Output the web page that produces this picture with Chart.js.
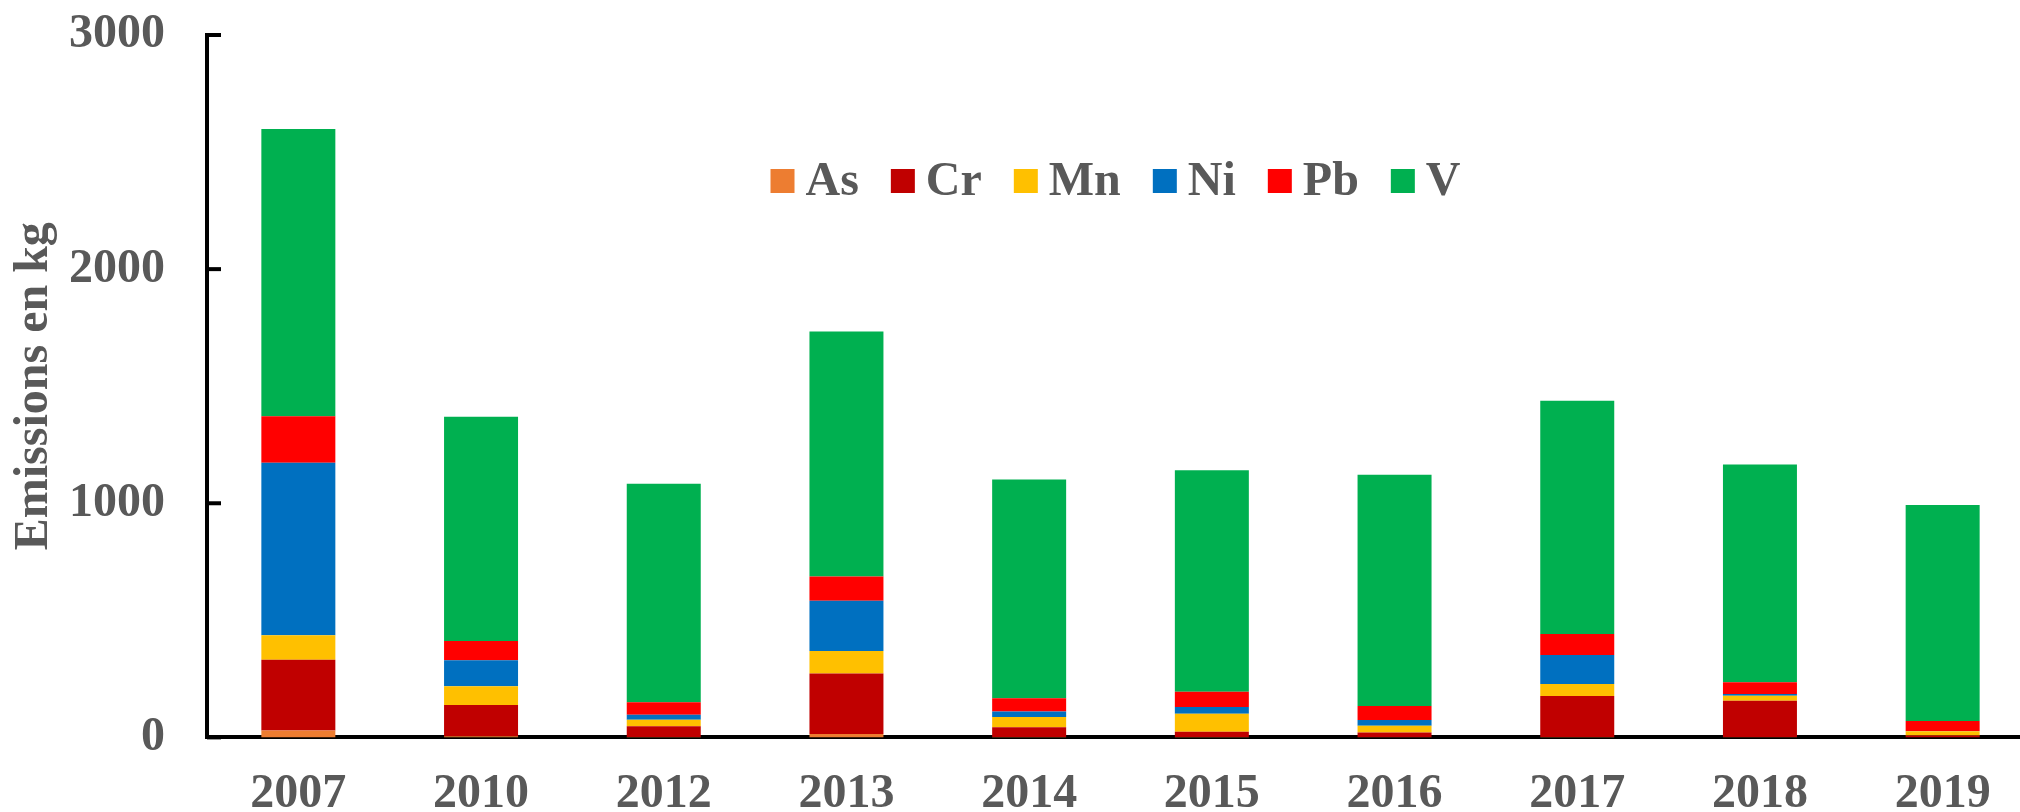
<!DOCTYPE html>
<html>
<head>
<meta charset="utf-8">
<script src="https://cdn.jsdelivr.net/npm/chart.js@4"></script>
<style>
    html, body { margin: 0; padding: 0; background: #fff; overflow: hidden; }
    #wrap { width: 2020px; height: 812px; overflow: hidden; }
</style>
</head>
<body>
<div id="wrap"><canvas id="chart" width="2034" height="812"></canvas></div>
<script>
const years = ["2007", "2010", "2012", "2013", "2014", "2015", "2016", "2017", "2018", "2019"];
const metals = ["As", "Cr", "Mn", "Ni", "Pb", "V"];
const asValues = [30, 5, 2, 15, 2, 2, 1, 2, 1, 0];
const crValues = [302, 133, 46, 258, 41, 22, 20, 175, 156, 8];
const mnValues = [104, 80, 27, 96, 44, 77, 29, 51, 21, 18];
const niValues = [737, 112, 22, 215, 24, 29, 24, 124, 7, 1];
const pbValues = [199, 82, 53, 103, 56, 65, 60, 90, 51, 43];
const vValues = [1226, 958, 933, 1047, 935, 946, 988, 996, 930, 923];
const yTicks = [0, 1000, 2000, 3000];
const colors = ["#ED7D31", "#C00000", "#FFC000", "#0070C0", "#FF0000", "#00B050"];

const textColor = "#595959";
const serif = "'Liberation Serif', 'Times New Roman', serif";
const boldFont = "bold 48px " + serif;

function series(i, data) {
    return {
        label: metals[i], data, backgroundColor: colors[i],
        borderWidth: 0, barPercentage: 0.405, categoryPercentage: 1
    };
}

// tick marks on the y axis point inwards, like the original
const innerTicks = {
    id: "innerTicks",
    afterDraw(chart) {
        const { ctx, chartArea, scales } = chart;
        ctx.save();
        ctx.strokeStyle = "#000";
        ctx.lineWidth = 4;
        yTicks.forEach(v => {
            const y = scales.y.getPixelForValue(v);
            ctx.beginPath();
            ctx.moveTo(chartArea.left, y);
            ctx.lineTo(chartArea.left + 14, y);
            ctx.stroke();
        });
        ctx.restore();
    }
};

// one-row legend sitting inside the plot, near the top
const innerLegend = {
    id: "innerLegend",
    afterDraw(chart) {
        const { ctx, chartArea } = chart;
        const box = 24, gap = 11, space = 32, baseline = 195;
        ctx.save();
        ctx.font = boldFont;
        const widths = chart.data.datasets.map(d => box + gap + ctx.measureText(d.label).width);
        const total = widths.reduce((a, b) => a + b, 0) + space * (widths.length - 1);
        let x = (chartArea.left + chartArea.right) / 2 - 5 - total / 2;
        chart.data.datasets.forEach((d, i) => {
            ctx.fillStyle = d.backgroundColor;
            ctx.fillRect(x, baseline - 26, box, box);
            ctx.fillStyle = textColor;
            ctx.textBaseline = "alphabetic";
            ctx.textAlign = "left";
            ctx.fillText(d.label, x + box + gap, baseline);
            x += widths[i] + space;
        });
        ctx.restore();
    }
};

new Chart(document.getElementById("chart"), {
    type: "bar",
    data: {
        labels: years,
        datasets: [
            series(0, asValues),
            series(1, crValues),
            series(2, mnValues),
            series(3, niValues),
            series(4, pbValues),
            series(5, vValues)
        ]
    },
    options: {
        responsive: false,
        animation: false,
        devicePixelRatio: 1,
        layout: { padding: { left: 11, top: 35, right: 0, bottom: 1 } },
        plugins: {
            tooltip: { enabled: false },
            legend: { display: false }
        },
        scales: {
            x: {
                stacked: true,
                grid: { display: false, drawTicks: true, tickLength: 40 },
                border: { color: "#000", width: 4 },
                ticks: {
                    color: textColor,
                    padding: 0,
                    font: { family: serif, size: 48, weight: "bold", lineHeight: 0.7 }
                }
            },
            y: {
                stacked: true,
                min: 0,
                max: 3000,
                afterBuildTicks: axis => { axis.ticks = yTicks.map(v => ({ value: v })); },
                grid: { display: false, drawTicks: true, tickLength: 42 },
                border: { color: "#000", width: 4 },
                ticks: {
                    color: textColor,
                    padding: 0,
                    callback: value => String(value),
                    font: { family: serif, size: 48, weight: "bold", lineHeight: 1 }
                },
                title: {
                    display: true,
                    text: "Emissions en kg",
                    color: textColor,
                    padding: { top: 0, bottom: 10 },
                    font: { family: serif, size: 48, weight: "bold", lineHeight: 1 }
                }
            }
        }
    },
    plugins: [innerTicks, innerLegend]
});
</script>
</body>
</html>
